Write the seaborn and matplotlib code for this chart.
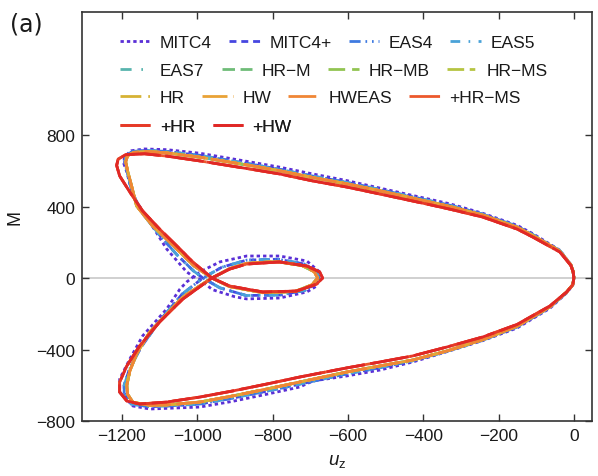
import numpy as np
import pandas as pd
import matplotlib
matplotlib.use("Agg")
import matplotlib.pyplot as plt
from matplotlib.lines import Line2D
import seaborn as sns

# Moment M versus tip displacement u_z, traced along the full load path.
# Element families whose responses coincide share one traced path.

# MITC4 (outermost path)
u_a = [0, -2, -8, -37, -109, -151, -242, -329, -382, -515, -603, -693, -781, -861, -993,
       -1081, -1140, -1175, -1193, -1195, -1187, -1171, -1126, -1081, -1028, -1010,
       -995, -960, -900, -869, -781, -709, -683, -677, -675, -709, -781, -869, -940,
       -993, -1028, -1046, -1081, -1145, -1179, -1206, -1206, -1171, -1126, -993,
       -906, -815, -728, -693, -603, -515, -428, -337, -242, -151, -64, -20, -3, 0]
m_a = [0, 37, 75, 155, 248, 295, 362, 415, 440, 503, 545, 582, 620, 650, 698,
       718, 722, 712, 680, 640, 593, 459, 313, 162, 34, 8,
       -5, -65, -105, -117, -112, -78, -45, 0, 34, 95, 123, 123, 90,
       34, -22, -62, -173, -324, -453, -565, -638, -716, -733, -722,
       -690, -650, -610, -576, -548, -515, -470, -412, -350, -280, -170, -85, -40, 0]

# MITC4+, EAS4, EAS5
u_b = [0, -2, -8, -37, -109, -151, -242, -329, -382, -515, -603, -693, -781, -861, -993,
       -1081, -1135, -1172, -1189, -1193, -1186, -1173, -1145, -1100, -1054, -1010,
       -985, -940, -870, -780, -715, -688, -678, -683, -715, -785, -869, -935, -985,
       -1040, -1100, -1150, -1180, -1194, -1194, -1175, -1126, -1081, -993, -906,
       -815, -728, -603, -515, -428, -337, -242, -151, -64, -20, -3, 0]
m_b = [0, 36, 74, 152, 242, 289, 357, 407, 432, 495, 535, 570, 608, 638, 686,
       708, 714, 708, 685, 645, 597, 480, 360, 240, 130, 40,
       0, -55, -98, -95, -70, -36, 0, 35, 78, 105, 100, 60, 0,
       -90, -240, -390, -510, -600, -645, -705, -720, -716, -705, -672,
       -633, -594, -536, -502, -463, -410, -348, -274, -165, -82, -39, 0]

# EAS7, HR-M, HR-MB, HR-MS, HR, HW, HWEAS
u_c = [0, -2, -8, -37, -109, -151, -242, -329, -382, -515, -603, -693, -781, -861, -993,
       -1081, -1130, -1168, -1185, -1190, -1185, -1175, -1161, -1118, -1054, -1010,
       -961, -914, -826, -740, -695, -680, -690, -722, -790, -869, -914, -961,
       -1038, -1126, -1160, -1179, -1187, -1185, -1171, -1126, -1081, -993, -906,
       -815, -728, -603, -515, -428, -337, -242, -151, -64, -20, -3, 0]
m_c = [0, 36, 73, 150, 238, 284, 352, 400, 425, 488, 527, 562, 600, 630, 676,
       700, 708, 703, 685, 650, 600, 520, 403, 291, 162, 70,
       0, -48, -82, -75, -38, 0, 36, 70, 92, 82, 52, 0,
       -106, -302, -420, -520, -600, -650, -695, -712, -710, -694, -660,
       -621, -582, -526, -492, -459, -408, -345, -270, -162, -80, -38, 0]

# +HR-MS, +HR, +HW
u_d = [0, -2, -8, -37, -109, -151, -242, -329, -382, -515, -603, -693, -781, -861, -993,
       -1081, -1140, -1190, -1210, -1214, -1206, -1179, -1145, -1100, -1054, -1012,
       -961, -914, -826, -736, -683, -667, -675, -709, -781, -869, -914, -961,
       -1038, -1100, -1153, -1187, -1206, -1206, -1187, -1153, -1081, -993, -906,
       -815, -728, -603, -515, -428, -337, -242, -151, -64, -19, -3, 0]
m_d = [0, 35, 70, 145, 229, 274, 341, 385, 410, 470, 509, 543, 582, 610, 655,
       682, 695, 690, 665, 630, 571, 481, 375, 274, 179, 90,
       0, -45, -78, -73, -34, 0, 34, 67, 90, 78, 50, 0,
       -117, -246, -380, -492, -582, -638, -688, -705, -694, -666, -632,
       -593, -554, -503, -470, -436, -386, -330, -260, -157, -78, -38, 0]

series = ["MITC4", "MITC4+", "EAS4", "EAS5", "EAS7", "HR\u2212M", "HR\u2212MB",
          "HR\u2212MS", "HR", "HW", "HWEAS", "+HR\u2212MS", "+HR", "+HW"]
series_path = ["a", "b", "b", "b", "c", "c", "c", "c", "c", "c", "c", "d", "d", "d"]
colors = ["#5a2fd6", "#4646e0", "#3f7ae0", "#4aa2d8", "#58b4ae", "#6fbc78", "#92c452",
          "#b6c442", "#d6b234", "#e9a236", "#f08636", "#ec582c", "#e63a28", "#e02826"]
dash_seqs = [(2.4, 2.2), (5, 3.5), (8, 3.5, 1.2, 3.5, 1.2, 3.5), (7, 6, 1.2, 6),
             (8, 7, 1.2, 7), (9, 4), (12, 5), (12, 4, 4, 4), (15, 5, 1.2, 5),
             (18, 4), (20, 4), (22, 4), (25, 4), (28, 4)]

paths = {"a": (u_a, m_a), "b": (u_b, m_b), "c": (u_c, m_c), "d": (u_d, m_d)}
frames = []
for name, key in zip(series, series_path):
    u, m = paths[key]
    frames.append(pd.DataFrame({"series": name, "step": np.arange(len(u)),
                                "u": u, "M": m}))
df = pd.concat(frames, ignore_index=True)

sns.set_style("ticks")
plt.rcParams.update({
    "font.family": ["Liberation Sans", "DejaVu Sans"],
    "mathtext.fontset": "custom",
    "mathtext.rm": "Liberation Sans",
    "mathtext.it": "Liberation Sans:italic",
    "lines.scale_dashes": False,
})

fig = plt.figure(figsize=(5.98, 4.77), dpi=100)
ax = fig.add_axes([0.1371, 0.1153, 0.8528, 0.8574])

ax.axhline(0, color="#c8c8c8", lw=1.2, zorder=0)

palette = dict(zip(series, colors))
dashes = dict(zip(series, dash_seqs))
sns.lineplot(data=df, x="u", y="M", hue="series", style="series",
             hue_order=series, style_order=series, palette=palette, dashes=dashes,
             sort=False, estimator=None, linewidth=2.0, legend=False, ax=ax)

ax.set_xlim(-1306, 48)
ax.set_ylim(-800, 1488)
ax.set_xticks(np.arange(-1200, 1, 200))
ax.set_yticks(np.arange(-800, 801, 400))
ax.tick_params(direction="in", top=True, right=True, length=5, width=1,
               color="#333333", labelsize=12.5, labelcolor="#1a1a1a", pad=5)
for sp in ax.spines.values():
    sp.set_visible(True)
    sp.set_color("#333333")
    sp.set_linewidth(1.2)

ax.set_xlabel(r"$u_\mathrm{z}$", fontsize=13.5, color="#1a1a1a")
ax.set_ylabel("M", fontsize=13, color="#1a1a1a")
ax.xaxis.set_label_coords(0.5, -0.075)
ax.yaxis.set_label_coords(-0.115, 0.5)

# Legend laid out in four wrapped rows
rows = [series[0:4], series[4:8], series[8:12], series[12:14]]
row_y = [0.9267, 0.858, 0.790, 0.721]
for names, y in zip(rows, row_y):
    handles = [Line2D([], [], color=palette[n], lw=2.0, dashes=dashes[n]) for n in names]
    leg = ax.legend(handles, names, ncol=len(names), loc="center left",
                    bbox_to_anchor=(0.0745, y), frameon=False, fontsize=12.5,
                    handlelength=1.75, handletextpad=0.55, columnspacing=1.0,
                    borderaxespad=0, borderpad=0)
    for t in leg.get_texts():
        t.set_color("#1a1a1a")
    ax.add_artist(leg)

fig.text(0.017, 0.948, "(a)", fontsize=17, family="DejaVu Sans", va="center",
         color="#1a1a1a")

fig.savefig("out.png", dpi=100)
